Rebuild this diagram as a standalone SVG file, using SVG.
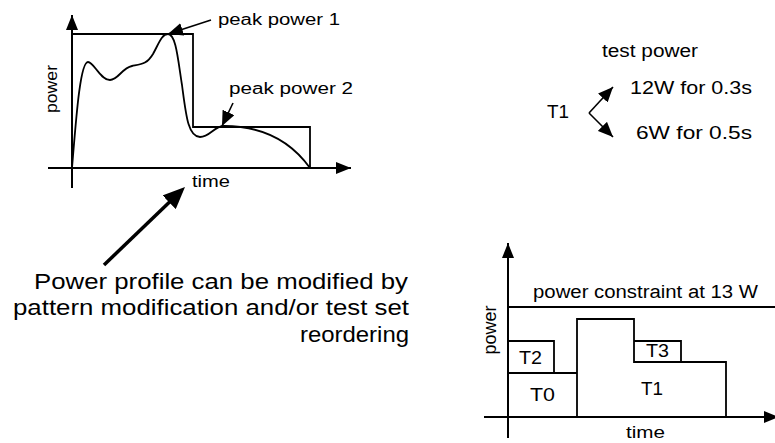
<svg xmlns="http://www.w3.org/2000/svg" width="775" height="443" viewBox="0 0 775 443">
<style>
  text { font-family: "Liberation Sans", Arial, sans-serif; fill: #000; }
  .ax { stroke: #000; stroke-width: 2; fill: none; }
  .ln { stroke: #000; stroke-width: 1.8; fill: none; }
  .thin { stroke: #000; stroke-width: 1.6; fill: none; }
  .big { stroke: #000; stroke-width: 3.5; fill: none; }
  .s16 { font-size: 16px; }
  .s18 { font-size: 18px; }
  .s22 { font-size: 22px; }
</style>
<defs>
  <marker id="axisHead" markerUnits="userSpaceOnUse" viewBox="0 0 15 12" refX="15" refY="6" markerWidth="15" markerHeight="12" orient="auto">
    <path d="M0,0 L15,6 L0,12 z" fill="#000"/>
  </marker>
  <marker id="head" markerUnits="userSpaceOnUse" viewBox="0 0 15 13" refX="15" refY="6.5" markerWidth="15" markerHeight="13" orient="auto">
    <path d="M0,0 L15,6.5 L0,13 z" fill="#000"/>
  </marker>
  <marker id="bigHead" markerUnits="userSpaceOnUse" viewBox="0 0 22 19" refX="2" refY="9.5" markerWidth="22" markerHeight="19" orient="auto">
    <path d="M0,0 L22,9.5 L0,19 z" fill="#000"/>
  </marker>
</defs>
<rect x="0" y="0" width="775" height="443" fill="#fff"/>

<g id="chart-profile">
  <line class="ax" x1="72" y1="188" x2="72" y2="15" marker-end="url(#axisHead)"/>
  <line class="ax" x1="48" y1="168" x2="351" y2="168" marker-end="url(#axisHead)"/>
  <path class="ln" d="M72,34 H193 V127 H310 V168"/>
  <path class="ln" d="M72,168 C76,120 80,62 88,62 C94,62 100,80 110,80 C118,80 122,68 132,66 C142,64 147,64 153,54 C159,43 162,34 168,34 C176,34 178,60 182,85 C186,115 188,137 200,137 C210,137 214,126 224,126 C260,126 290,140 310,168"/>
  <text class="s16" transform="translate(57,89) rotate(-90)" text-anchor="middle" textLength="48" lengthAdjust="spacingAndGlyphs">power</text>
  <text class="s16" x="192" y="187" textLength="38" lengthAdjust="spacingAndGlyphs">time</text>
  <text class="s16" x="218" y="25" textLength="122" lengthAdjust="spacingAndGlyphs">peak power 1</text>
  <text class="s16" x="229" y="94" textLength="124" lengthAdjust="spacingAndGlyphs">peak power 2</text>
</g>

<g id="test-power">
  <text class="s18" x="602" y="57" textLength="96" lengthAdjust="spacingAndGlyphs">test power</text>
  <text class="s18" x="547" y="118" textLength="22" lengthAdjust="spacingAndGlyphs">T1</text>
  <text class="s18" x="630" y="94" textLength="122" lengthAdjust="spacingAndGlyphs">12W for 0.3s</text>
  <text class="s18" x="636" y="139" textLength="116" lengthAdjust="spacingAndGlyphs">6W for 0.5s</text>
</g>

<g id="caption">
  <text class="s22" text-anchor="end" x="408" y="289" textLength="374" lengthAdjust="spacingAndGlyphs">Power profile can be modified by</text>
  <text class="s22" text-anchor="end" x="409" y="315" textLength="396" lengthAdjust="spacingAndGlyphs">pattern modification and/or test set</text>
  <text class="s22" text-anchor="end" x="409" y="342" textLength="109" lengthAdjust="spacingAndGlyphs">reordering</text>
</g>

<g id="chart-schedule">
  <line class="ax" x1="508" y1="438" x2="508" y2="243" marker-end="url(#axisHead)"/>
  <line class="ax" x1="484" y1="417" x2="779" y2="417" marker-end="url(#axisHead)"/>
  <line class="ln" x1="508" y1="307" x2="775" y2="307"/>
  <text class="s18" x="533" y="298" textLength="225" lengthAdjust="spacingAndGlyphs">power constraint at 13 W</text>
  <text class="s18" transform="translate(496,330) rotate(-90)" text-anchor="middle" textLength="49" lengthAdjust="spacingAndGlyphs">power</text>
  <g id="T0">
    <path class="ln" d="M508,373 H577"/>
    <text class="s18" x="530" y="401" textLength="25" lengthAdjust="spacingAndGlyphs">T0</text>
  </g>
  <g id="T2">
    <path class="ln" d="M508,341 H554 V373"/>
    <text class="s18" x="519" y="364" textLength="23" lengthAdjust="spacingAndGlyphs">T2</text>
  </g>
  <g id="T1">
    <path class="ln" d="M577,417 V319 H634 V362 H726 V417"/>
    <text class="s18" x="641" y="395" textLength="22" lengthAdjust="spacingAndGlyphs">T1</text>
  </g>
  <g id="T3">
    <path class="ln" d="M634,341 H681 V362"/>
    <text class="s18" x="646" y="357" textLength="23" lengthAdjust="spacingAndGlyphs">T3</text>
  </g>
  <text class="s16" x="626" y="438" textLength="39" lengthAdjust="spacingAndGlyphs">time</text>
</g>

<g id="connectors">
  <line class="thin" x1="211" y1="20" x2="168" y2="34" marker-end="url(#head)"/>
  <line class="thin" x1="233" y1="103" x2="222" y2="126" marker-end="url(#head)"/>
  <line class="thin" x1="589" y1="113" x2="613" y2="87" marker-end="url(#head)"/>
  <line class="thin" x1="589" y1="113" x2="613" y2="137" marker-end="url(#head)"/>
  <line class="big" x1="104" y1="265" x2="170.6" y2="200.9" marker-end="url(#bigHead)"/>
</g>
</svg>
